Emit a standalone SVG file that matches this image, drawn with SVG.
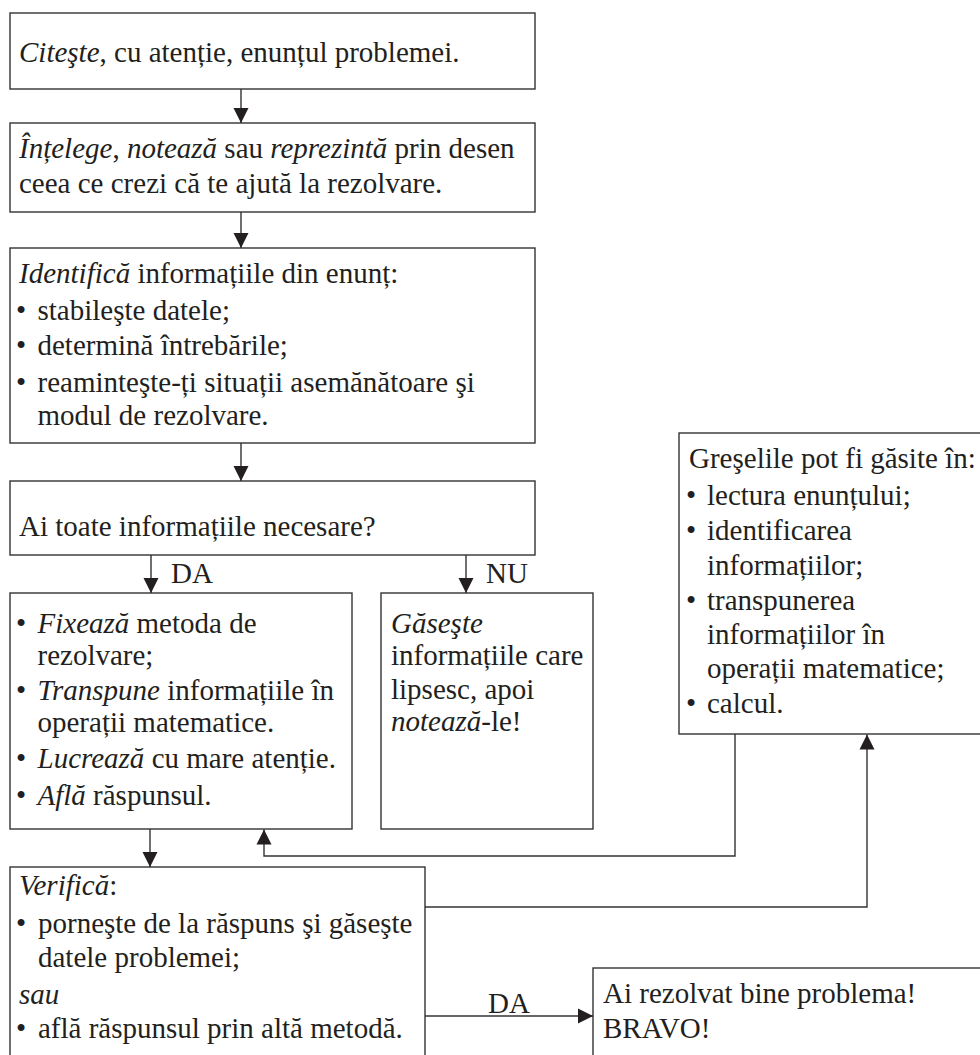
<svg xmlns="http://www.w3.org/2000/svg" width="980" height="1055" viewBox="0 0 980 1055">
<style>
  .box { fill: #ffffff; stroke: #333333; stroke-width: 1.4; }
  .t { font-family: "Liberation Serif", "Times New Roman", "DejaVu Serif", serif; font-size: 29px; fill: #231f20; }
  .i { font-style: italic; }
  .c { fill: none; stroke: #333333; stroke-width: 1.4; }
</style>
<defs>
  <marker id="ah" markerUnits="userSpaceOnUse" markerWidth="16" markerHeight="16" viewBox="0 0 16 16" refX="15" refY="8" orient="auto">
    <path d="M0,0.5 L15,8 L0,15.5 Z" fill="#231f20"/>
  </marker>
</defs>
<rect width="980" height="1055" fill="#ffffff"/>

<g id="n1">
  <rect class="box" x="10" y="13" width="525" height="76"/>
  <text class="t" x="19" y="62"><tspan class="i">Citeşte</tspan>, cu atenție, enunțul problemei.</text>
</g>

<g id="n2">
  <rect class="box" x="10" y="123" width="525" height="89"/>
  <text class="t" x="19" y="158"><tspan class="i">Înțelege</tspan>, <tspan class="i">notează</tspan> sau <tspan class="i">reprezintă</tspan> prin desen</text>
  <text class="t" x="19" y="193">ceea ce crezi că te ajută la rezolvare.</text>
</g>

<g id="n3">
  <rect class="box" x="10" y="248" width="525" height="195"/>
  <text class="t" x="19" y="283"><tspan class="i">Identifică</tspan> informațiile din enunț:</text>
  <text class="t" x="16" y="320">•</text><text class="t" x="37.5" y="320">stabileşte datele;</text>
  <text class="t" x="16" y="355">•</text><text class="t" x="37.5" y="355">determină întrebările;</text>
  <text class="t" x="16" y="392">•</text><text class="t" x="37.5" y="392">reaminteşte-ți situații asemănătoare şi</text>
  <text class="t" x="37.5" y="425">modul de rezolvare.</text>
</g>

<g id="n4">
  <rect class="box" x="10" y="481" width="525" height="74"/>
  <text class="t" x="19" y="536">Ai toate informațiile necesare?</text>
</g>

<g id="n5">
  <rect class="box" x="10" y="593" width="342" height="236"/>
  <text class="t" x="16" y="633">•</text><text class="t" x="37.5" y="633"><tspan class="i">Fixează</tspan> metoda de</text>
  <text class="t" x="37.5" y="665">rezolvare;</text>
  <text class="t" x="16" y="700">•</text><text class="t" x="37.5" y="700"><tspan class="i">Transpune</tspan> informațiile în</text>
  <text class="t" x="37.5" y="732">operații matematice.</text>
  <text class="t" x="16" y="768">•</text><text class="t" x="37.5" y="768"><tspan class="i">Lucrează</tspan> cu mare atenție.</text>
  <text class="t" x="16" y="805">•</text><text class="t" x="37.5" y="805"><tspan class="i">Află</tspan> răspunsul.</text>
</g>

<g id="n6">
  <rect class="box" x="381" y="593" width="212" height="236"/>
  <text class="t i" x="391" y="633">Găseşte</text>
  <text class="t" x="391" y="665">informațiile care</text>
  <text class="t" x="391" y="699">lipsesc, apoi</text>
  <text class="t" x="391" y="731"><tspan class="i">notează</tspan>-le!</text>
</g>

<g id="n7">
  <rect class="box" x="679" y="433" width="303" height="301"/>
  <text class="t" x="689" y="468">Greşelile pot fi găsite în:</text>
  <text class="t" x="686" y="505">•</text><text class="t" x="707" y="505">lectura enunțului;</text>
  <text class="t" x="686" y="540">•</text><text class="t" x="707" y="540">identificarea</text>
  <text class="t" x="707" y="575">informațiilor;</text>
  <text class="t" x="686" y="610">•</text><text class="t" x="707" y="610">transpunerea</text>
  <text class="t" x="707" y="644">informațiilor în</text>
  <text class="t" x="707" y="678">operații matematice;</text>
  <text class="t" x="686" y="713">•</text><text class="t" x="707" y="713">calcul.</text>
</g>

<g id="n8">
  <rect class="box" x="10" y="867" width="415" height="192"/>
  <text class="t i" x="19" y="895">Verifică<tspan font-style="normal">:</tspan></text>
  <text class="t" x="16" y="933">•</text><text class="t" x="38" y="933">porneşte de la răspuns şi găseşte</text>
  <text class="t" x="38" y="967">datele problemei;</text>
  <text class="t i" x="19" y="1004">sau</text>
  <text class="t" x="16" y="1038">•</text><text class="t" x="38" y="1038">află răspunsul prin altă metodă.</text>
</g>

<g id="n9">
  <rect class="box" x="593" y="968" width="390" height="91"/>
  <text class="t" x="603" y="1003">Ai rezolvat bine problema!</text>
  <text class="t" x="603" y="1038">BRAVO!</text>
</g>

<g id="connectors">
  <line class="c" x1="241" y1="89" x2="241" y2="123" marker-end="url(#ah)"/>
  <line class="c" x1="241" y1="212" x2="241" y2="248" marker-end="url(#ah)"/>
  <line class="c" x1="241" y1="443" x2="241" y2="481" marker-end="url(#ah)"/>
  <line class="c" x1="151" y1="555" x2="151" y2="593" marker-end="url(#ah)"/>
  <text class="t" x="171" y="583">DA</text>
  <line class="c" x1="466" y1="555" x2="466" y2="593" marker-end="url(#ah)"/>
  <text class="t" x="486" y="583">NU</text>
  <line class="c" x1="150" y1="829" x2="150" y2="867" marker-end="url(#ah)"/>
  <polyline class="c" points="735,734 735,856 264,856 264,829.5" marker-end="url(#ah)"/>
  <polyline class="c" points="425,907 867,907 867,734.5" marker-end="url(#ah)"/>
  <line class="c" x1="425" y1="1016" x2="593" y2="1016" marker-end="url(#ah)"/>
  <text class="t" x="488" y="1013">DA</text>
</g>
</svg>
